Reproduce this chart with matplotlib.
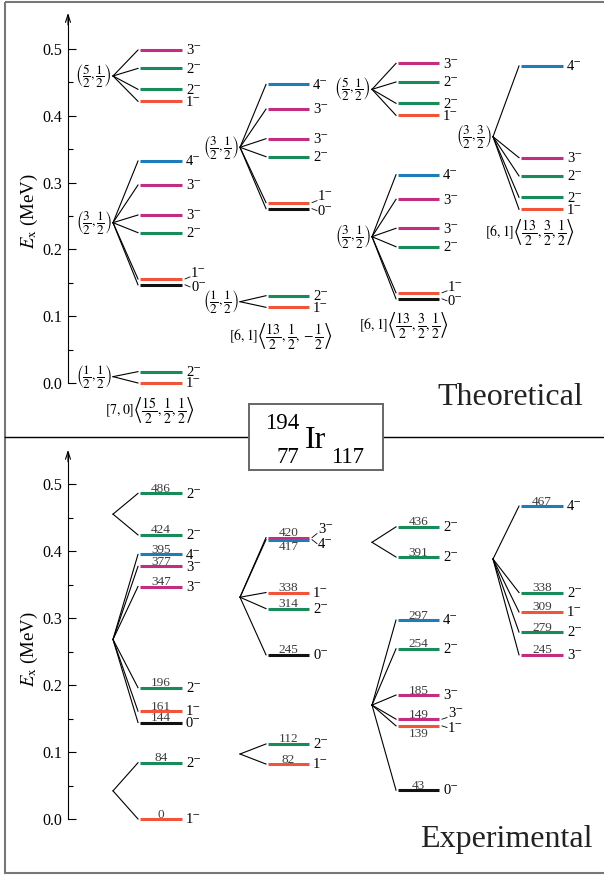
import matplotlib
matplotlib.use('Agg')
import matplotlib.pyplot as plt
from matplotlib.patches import Rectangle

plt.rcParams['font.family'] = ['Liberation Serif', 'DejaVu Serif']
plt.rcParams['mathtext.fontset'] = 'stix'

# ---------------- data ----------------
# spin colours
spin_colors = {0: '#111111', 1: '#F0553A', 2: '#178C5A', 3: '#C22D82', 4: '#1E7DB9'}

# Theoretical levels (MeV)  -- energies, spins, branch-point energy
th1a_E = [0.4985, 0.4710, 0.4396, 0.4217]; th1a_J = [3, 2, 2, 1]; th1a_v = 0.4596
th1b_E = [0.3323, 0.2964, 0.2515, 0.2250, 0.1557, 0.1470]; th1b_J = [4, 3, 3, 2, 1, 0]; th1b_v = 0.2400
th1c_E = [0.0170, 0.0000]; th1c_J = [2, 1]; th1c_v = 0.0095
th2a_E = [0.4470, 0.4100, 0.3657, 0.3388, 0.2700, 0.2610]; th2a_J = [4, 3, 3, 2, 1, 0]; th2a_v = 0.3528
th2b_E = [0.1307, 0.1133]; th2b_J = [2, 1]; th2b_v = 0.1217
th3a_E = [0.4785, 0.4506, 0.4187, 0.4007]; th3a_J = [3, 2, 2, 1]; th3a_v = 0.4396
th3b_E = [0.3118, 0.2750, 0.2316, 0.2040, 0.1350, 0.1260]; th3b_J = [4, 3, 3, 2, 1, 0]; th3b_v = 0.2190
th4a_E = [0.4746, 0.3373, 0.3100, 0.2780, 0.2600]; th4a_J = [4, 3, 2, 2, 1]; th4a_v = 0.3687

th_group_labels = [r'$\left(\dfrac{5}{2},\dfrac{1}{2}\right)$', r'$\left(\dfrac{3}{2},\dfrac{1}{2}\right)$',
                   r'$\left(\dfrac{1}{2},\dfrac{1}{2}\right)$',
                   r'$\left(\dfrac{3}{2},\dfrac{1}{2}\right)$', r'$\left(\dfrac{1}{2},\dfrac{1}{2}\right)$',
                   r'$\left(\dfrac{5}{2},\dfrac{1}{2}\right)$', r'$\left(\dfrac{3}{2},\dfrac{1}{2}\right)$',
                   r'$\left(\dfrac{3}{2},\dfrac{3}{2}\right)$']
band_labels = [r'$[7,0]\left\langle\dfrac{15}{2},\dfrac{1}{2},\dfrac{1}{2}\right\rangle$',
               r'$[6,1]\left\langle\dfrac{13}{2},\dfrac{1}{2},-\dfrac{1}{2}\right\rangle$',
               r'$[6,1]\left\langle\dfrac{13}{2},\dfrac{3}{2},\dfrac{1}{2}\right\rangle$',
               r'$[6,1]\left\langle\dfrac{13}{2},\dfrac{3}{2},\dfrac{1}{2}\right\rangle$']

# Experimental levels (keV)
ex1a_E = [486, 424]; ex1a_J = [2, 2]; ex1a_v = 0.455
ex1b_E = [395, 377, 347, 196, 161, 144]; ex1b_J = [4, 3, 3, 2, 1, 0]; ex1b_v = 0.268
ex1c_E = [84, 0]; ex1c_J = [2, 1]; ex1c_v = 0.042
ex2a_E = [420, 417, 338, 314, 245]; ex2a_J = [3, 4, 1, 2, 0]; ex2a_v = 0.331
ex2b_E = [112, 82]; ex2b_J = [2, 1]; ex2b_v = 0.097
ex3a_E = [436, 391]; ex3a_J = [2, 2]; ex3a_v = 0.413
ex3b_E = [297, 254, 185, 149, 139, 43]; ex3b_J = [4, 2, 3, 3, 1, 0]; ex3b_v = 0.170
ex4a_E = [467, 338, 309, 279, 245]; ex4a_J = [4, 2, 1, 2, 3]; ex4a_v = 0.388

yticks_major = [0.0, 0.1, 0.2, 0.3, 0.4, 0.5]
yticks_minor = [0.05, 0.15, 0.25, 0.35, 0.45]

# ---------------- layout (pixels) ----------------
W, H = 604, 876
COLS = [(113, 140, 182), (240, 268, 309), (372, 398, 439), (493, 521, 563)]
AXIS_X = 68

fig = plt.figure(figsize=(W / 100, H / 100), dpi=100)

ov = fig.add_axes([0, 0, 1, 1])
ov.set_xlim(0, W); ov.set_ylim(H, 0); ov.axis('off')

top = fig.add_axes([0, (H - 437) / H, 1, 437 / H])
bot = fig.add_axes([0, 0, 1, 439 / H])
TOP_PPM, BOT_PPM = 668.0, 670.0
top.set_ylim(-54 / TOP_PPM, 383 / TOP_PPM)
bot.set_ylim(-57 / BOT_PPM, 382 / BOT_PPM)

for ax, ppm, ytop in ((top, TOP_PPM, 0.551), (bot, BOT_PPM, 0.548)):
    ax.set_xlim(0, W)
    ax.patch.set_visible(False)
    for s in ('top', 'right', 'bottom'):
        ax.spines[s].set_visible(False)
    ax.spines['left'].set_position(('data', AXIS_X))
    ax.spines['left'].set_bounds(0, ytop)
    ax.spines['left'].set_linewidth(0.8)
    ax.set_xticks([])
    ax.set_yticks(yticks_major)
    ax.set_yticklabels(['%.1f' % v for v in yticks_major])
    ax.set_yticks(yticks_minor, minor=True)
    ax.tick_params(axis='y', which='major', direction='in', length=6, width=0.8, labelsize=11.5, pad=4)
    ax.tick_params(axis='y', which='minor', direction='in', length=3.5, width=0.8)
    ax.annotate('', xy=(AXIS_X, ytop + 2 / ppm), xytext=(AXIS_X, ytop - 10 / ppm),
                arrowprops=dict(arrowstyle='->,head_length=0.55,head_width=0.18', lw=0.8, color='k',
                                shrinkA=0, shrinkB=0))


def spin_text(J):
    return '%d\u207b' % J


def draw_group(ax, ppm, col, vE, energies, spins, label=None, numbers=None, bracket=None):
    xv, x0, x1 = COLS[col]
    for E, J in zip(energies, spins):
        ax.plot([x0, x1], [E, E], color=spin_colors[J], lw=2.2, solid_capstyle='butt', zorder=3)
        ax.plot([xv, x0 - 2], [vE, E], color='k', lw=0.8, zorder=2)
    for i, (E, J) in enumerate(zip(energies, spins)):
        if bracket is not None and i in bracket:
            continue
        ax.text(x1 + 4, E - 4.3 / ppm, spin_text(J), fontsize=10.5, ha='left', va='baseline')
    if bracket is not None:
        iu, il = bracket
        Eu, El = energies[iu], energies[il]
        mid = 0.5 * (Eu + El)
        ax.plot([x1 + 3, x1 + 8], [Eu, mid + 5 / ppm], color='k', lw=0.6)
        ax.plot([x1 + 3, x1 + 8], [El, mid - 5 / ppm], color='k', lw=0.6)
        ax.text(x1 + 9, mid + 5.2 / ppm, spin_text(spins[iu]), fontsize=10.5, ha='left', va='baseline')
        ax.text(x1 + 9, mid - 9.3 / ppm, spin_text(spins[il]), fontsize=10.5, ha='left', va='baseline')
    if label is not None:
        ax.text(xv - 1, vE, label, fontsize=9.5, ha='right', va='center')
    if numbers is not None:
        xc = 0.5 * (x0 + x1)
        for i, (E, n) in enumerate(zip(energies, numbers)):
            below = bracket is not None and i == bracket[1]
            y = E - 10.8 / ppm if below else E + 1.5 / ppm
            ax.text(xc, y, '%d' % n, fontsize=9.5, color='#3c3c3c', ha='center', va='baseline')


# theoretical
draw_group(top, TOP_PPM, 0, th1a_v, th1a_E, th1a_J, th_group_labels[0])
draw_group(top, TOP_PPM, 0, th1b_v, th1b_E, th1b_J, th_group_labels[1], bracket=(4, 5))
draw_group(top, TOP_PPM, 0, th1c_v, th1c_E, th1c_J, th_group_labels[2])
draw_group(top, TOP_PPM, 1, th2a_v, th2a_E, th2a_J, th_group_labels[3], bracket=(4, 5))
draw_group(top, TOP_PPM, 1, th2b_v, th2b_E, th2b_J, th_group_labels[4])
draw_group(top, TOP_PPM, 2, th3a_v, th3a_E, th3a_J, th_group_labels[5])
draw_group(top, TOP_PPM, 2, th3b_v, th3b_E, th3b_J, th_group_labels[6], bracket=(4, 5))
draw_group(top, TOP_PPM, 3, th4a_v, th4a_E, th4a_J, th_group_labels[7])

# band labels (pixel positions: x centre, y centre)
band_pos = [(150, 410), (281, 336), (404, 325), (530, 232)]
for (bx, by), txt in zip(band_pos, band_labels):
    ov.text(bx, by, txt, fontsize=10, ha='center', va='center')

# experimental
def kev(v):
    return [e / 1000.0 for e in v]

draw_group(bot, BOT_PPM, 0, ex1a_v, kev(ex1a_E), ex1a_J, numbers=ex1a_E)
draw_group(bot, BOT_PPM, 0, ex1b_v, kev(ex1b_E), ex1b_J, numbers=ex1b_E)
draw_group(bot, BOT_PPM, 0, ex1c_v, kev(ex1c_E), ex1c_J, numbers=ex1c_E)
draw_group(bot, BOT_PPM, 1, ex2a_v, kev(ex2a_E), ex2a_J, numbers=ex2a_E, bracket=(0, 1))
draw_group(bot, BOT_PPM, 1, ex2b_v, kev(ex2b_E), ex2b_J, numbers=ex2b_E)
draw_group(bot, BOT_PPM, 2, ex3a_v, kev(ex3a_E), ex3a_J, numbers=ex3a_E)
draw_group(bot, BOT_PPM, 2, ex3b_v, kev(ex3b_E), ex3b_J, numbers=ex3b_E, bracket=(3, 4))
draw_group(bot, BOT_PPM, 3, ex4a_v, kev(ex4a_E), ex4a_J, numbers=ex4a_E)

# ---------------- overlay: frame, divider, titles, nucleus box ----------------
ov.add_patch(Rectangle((5, 2), 604, 871, fill=False, edgecolor='#777777', lw=1.5, zorder=1))
ov.plot([5, 249], [437, 437], color='k', lw=1.0, zorder=2)
ov.plot([383, W], [437, 437], color='k', lw=1.0, zorder=2)
ov.add_patch(Rectangle((249, 404), 134, 66, facecolor='white', edgecolor='#666666', lw=1.4, zorder=3))
ov.text(282, 429, '194', fontsize=16.5, ha='center', va='baseline', zorder=4)
ov.text(288, 463, '77', fontsize=16.5, ha='center', va='baseline', zorder=4)
ov.text(316, 448, 'Ir', fontsize=23, ha='center', va='baseline', zorder=4)
ov.text(348, 463, '117', fontsize=16.5, ha='center', va='baseline', zorder=4)

ov.text(510, 405, 'Theoretical', fontsize=23, ha='center', va='baseline', color='#222222')
ov.text(506, 847, 'Experimental', fontsize=23, ha='center', va='baseline', color='#222222')

ov.text(29, 211, r'$E_{\mathrm{x}}$ (MeV)', fontsize=13.5, rotation=90, ha='center', va='center')
ov.text(29, 649, r'$E_{\mathrm{x}}$ (MeV)', fontsize=13.5, rotation=90, ha='center', va='center')

fig.savefig('out.png', dpi=100)
